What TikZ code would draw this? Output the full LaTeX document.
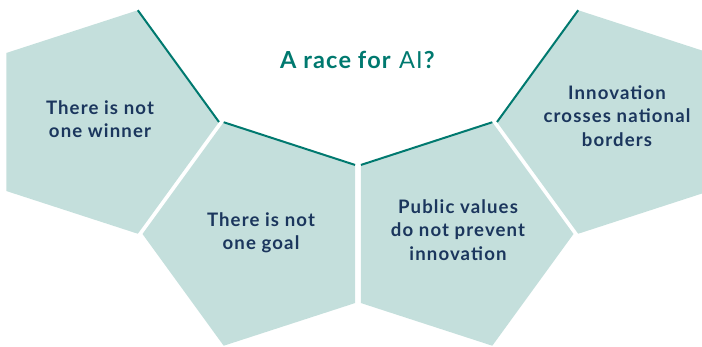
\documentclass[tikz,border=0pt]{standalone}
\usepackage{fontspec}
\setmainfont{Lato}
\newfontfamily\labelfont[LetterSpace=6]{Lato}
\newfontfamily\titlefont[LetterSpace=5]{Lato}
\usetikzlibrary{shapes.geometric}
\definecolor{petalfill}{HTML}{C4DFDC}
\definecolor{rimteal}{HTML}{00796F}
\definecolor{textnavy}{HTML}{1B365D}
\tikzset{
  petal/.style={regular polygon, regular polygon sides=5, fill=petalfill,
    minimum size=235pt, inner sep=0pt, outer sep=0pt},
  rim/.style={rimteal, line width=2pt},
  petaltext/.style={textnavy, align=center, font=\labelfont\fontsize{18.6}{23.5}\selectfont\bfseries}
}
\begin{document}
\begin{tikzpicture}[x=1pt,y=-1pt]
\useasboundingbox (0,0) rectangle (702,347);
\clip (0,0) rectangle (702,347);
%%%%
\node[petal, shape border rotate=-90] (winner) at (101.5,122) {};
\node[petal, shape border rotate=90] (goal) at (260,234) {};
\node[petal, shape border rotate=-90] (values) at (456,234) {};
\node[petal, shape border rotate=90] (borders) at (614.5,122) {};
%%%%
\draw[rim] (winner.corner 1) -- (winner.corner 2);
\draw[rim] (goal.corner 5) -- (goal.corner 4);
\draw[rim] (values.corner 3) -- (values.corner 2);
\draw[rim] (borders.corner 1) -- (borders.corner 5);
%%%%
\node[petaltext] (winnertext) at (100,119) {There is not\\one winner};
\node[petaltext] (goaltext) at (261,233) {There is not\\one goal};
\node[petaltext] (valuestext) at (458,230) {Public values\\do not prevent\\innovation};
\node[petaltext] (borderstext) at (617,116) {Innovation\\crosses national\\borders};
\node[rimteal, font=\titlefont\fontsize{23.5}{28}\selectfont] (title) at (358,60) {\textbf{A race for} AI\textbf{?}};
\end{tikzpicture}
\end{document}
